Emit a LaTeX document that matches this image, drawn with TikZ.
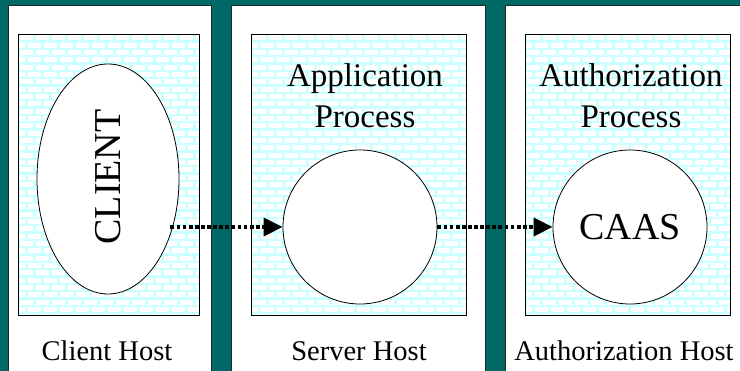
\documentclass[tikz,border=0pt]{standalone}
\usepackage{fontspec}
\setmainfont{Liberation Serif}
\usetikzlibrary{arrows.meta,shapes.geometric}
\definecolor{hostteal}{HTML}{006966}
\definecolor{mortar}{HTML}{CCFFFF}
\definecolor{frameline}{HTML}{1A2A2A}
\tikzset{
  hostbox/.style={draw=frameline, line width=0.8pt, fill=white},
  brickwall/.style={draw=black, line width=0.8pt},
  proc/.style={draw=black, line width=0.8pt, fill=white, inner sep=0pt},
  flow/.style={line width=3.6pt, dash pattern=on 3.8pt off 2.3pt,
    -{Triangle[length=19pt,width=18pt]}},
  hostlabel/.style={font=\fontsize{28.5}{30}\selectfont, anchor=base},
  proclabel/.style={font=\fontsize{33}{41}\selectfont, align=center, anchor=base},
}
% brick texture inside a rectangle given by its corners
\newcommand{\brickfill}[4]{%
  \begin{scope}
    \clip (#1,#2) rectangle (#3,#4);
    \fill[mortar] (#1,#2) rectangle (#3,#4);
    \foreach \r in {0,...,40}{
      \pgfmathsetmacro{\yy}{#2+1.2+\r*7.35}
      \pgfmathsetmacro{\off}{mod(\r,2)*8}
      \foreach \c in {-1,...,14}{
        \pgfmathsetmacro{\xx}{#1+1.5+\c*16+\off}
        \fill[white] (\xx,\yy) rectangle ++(13,5);
      }
    }
  \end{scope}
  \draw[brickwall] (#1,#2) rectangle (#3,#4);
}
\begin{document}
\begin{tikzpicture}[x=1pt,y=-1pt]
  \useasboundingbox (0,0) rectangle (740,371);
  \fill[hostteal] (0,0) rectangle (740,371);

  % host frames
  \draw[hostbox] (8,5) rectangle (211,380);
  \draw[hostbox] (231,5) rectangle (485,380);
  \draw[hostbox] (505,5) rectangle (750,380);

  % process areas
  \brickfill{18}{34}{199}{315}
  \brickfill{251}{34}{466}{315}
  \brickfill{525}{34}{730}{315}

  % processes
  \node[proc, ellipse, minimum width=142pt, minimum height=230pt] (client) at (108,179) {};
  \node[font=\fontsize{38}{40}\selectfont, rotate=90] (clienttext) at (108,177) {CLIENT};
  \node[proc, circle, minimum size=154pt] (app) at (360,227) {};
  \node[proc, circle, minimum size=154pt, font=\fontsize{38}{40}\selectfont] (caas) at (630,227) {CAAS};

  % process titles (anchored at the baseline of the last line)
  \node[proclabel] (apptitle) at (365,128) {Application\\Process};
  \node[proclabel] (authtitle) at (631,128) {Authorization\\Process};

  % messages
  \draw[flow] ([xshift=-9pt]client.east |- app.west) -- (app.west);
  \draw[flow] (app.east) -- (caas.west);

  % host names
  \node[hostlabel] (clienthost) at (107,361) {Client Host};
  \node[hostlabel] (serverhost) at (359,361) {Server Host};
  \node[hostlabel] (authhost) at (624,361) {Authorization Host};
\end{tikzpicture}
\end{document}
